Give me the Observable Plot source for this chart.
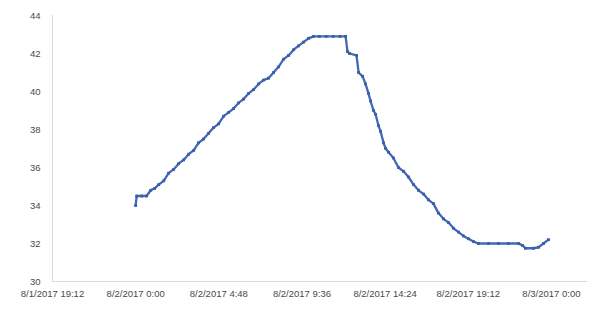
<!DOCTYPE html>
<html>
<head>
<meta charset="utf-8">
<script src="https://cdn.jsdelivr.net/npm/d3@7"></script>
<script src="https://cdn.jsdelivr.net/npm/@observablehq/plot@0.6"></script>
<style>
  html, body { margin: 0; padding: 0; background: #fff; }
  #chart { width: 590px; height: 318px; }
</style>
</head>
<body>
<div id="chart"></div>
<script>
// Hours after 8/2/2017 0:00
const hours = [0.00, 0.06, 0.35, 0.63, 0.87, 1.10, 1.33, 1.62, 1.90, 2.19, 2.48, 2.77, 3.06, 3.35, 3.63, 3.92,
  4.21, 4.50, 4.79, 5.08, 5.37, 5.65, 5.94, 6.23, 6.52, 6.81, 7.10, 7.38, 7.67, 7.96, 8.25, 8.54, 8.83, 9.12,
  9.40, 9.69, 9.98, 10.27, 10.60, 11.00, 11.40, 11.80, 12.12, 12.23, 12.35, 12.75, 12.87, 13.10, 13.27, 13.44,
  13.56, 13.73, 13.85, 14.02, 14.14, 14.31, 14.43, 14.60, 14.88, 15.17, 15.46, 15.75, 16.04, 16.33, 16.62,
  16.90, 17.19, 17.48, 17.77, 18.06, 18.35, 18.64, 18.92, 19.21, 19.50, 19.79, 20.37, 20.94, 21.52, 22.10,
  22.33, 22.50, 22.96, 23.25, 23.54, 23.83];
const temps = [34.0, 34.5, 34.5, 34.5, 34.8, 34.9, 35.1, 35.3, 35.7, 35.9, 36.2, 36.4, 36.7, 36.9, 37.3, 37.5,
  37.8, 38.1, 38.3, 38.7, 38.9, 39.1, 39.4, 39.6, 39.9, 40.1, 40.4, 40.6, 40.7, 41.0, 41.3, 41.7, 41.9, 42.2,
  42.4, 42.6, 42.8, 42.9, 42.9, 42.9, 42.9, 42.9, 42.9, 42.1, 42.0, 41.9, 41.0, 40.8, 40.4, 39.9,
  39.5, 39.0, 38.8, 38.2, 37.9, 37.3, 37.0, 36.8, 36.5, 36.0, 35.8, 35.5, 35.1, 34.8, 34.6,
  34.3, 34.1, 33.6, 33.3, 33.1, 32.8, 32.6, 32.4, 32.25, 32.1, 32.0, 32.0, 32.0, 32.0, 32.0,
  31.9, 31.75, 31.75, 31.8, 32.0, 32.2];
const xTickLabels = ["8/1/2017 19:12", "8/2/2017 0:00", "8/2/2017 4:48", "8/2/2017 9:36", "8/2/2017 14:24", "8/2/2017 19:12", "8/3/2017 0:00"];
const yTicks = [30, 32, 34, 36, 38, 40, 42, 44];

function parseLabel(s) {
  const [d, t] = s.split(" ");
  const [m, day, y] = d.split("/").map(Number);
  const [H, M] = t.split(":").map(Number);
  return new Date(Date.UTC(y, m - 1, day, H, M));
}
const base = Date.UTC(2017, 7, 2, 0, 0);
const data = hours.map((h, i) => ({ t: new Date(base + h * 3600e3), v: temps[i] }));
const xTicks = xTickLabels.map(parseLabel);
const fmt = d => `${d.getUTCMonth() + 1}/${d.getUTCDate()}/${d.getUTCFullYear()} ${d.getUTCHours()}:${String(d.getUTCMinutes()).padStart(2, "0")}`;

const xMin = parseLabel("8/1/2017 19:12");
const xMax = new Date(Date.UTC(2017, 7, 3, 2, 5));

const chart = Plot.plot({
  width: 590,
  height: 318,
  marginLeft: 52,
  marginRight: 3,
  marginTop: 15,
  marginBottom: 37,
  style: { fontFamily: "'Liberation Sans', Arial, sans-serif", fontSize: "9.5px", color: "#4a4a4a", background: "#fff" },
  x: { type: "utc", domain: [xMin, xMax], ticks: xTicks, tickFormat: fmt, tickSize: 0, tickPadding: 9, label: null },
  y: { domain: [30, 44], ticks: yTicks, tickSize: 0, tickPadding: 12, label: null },
  marks: [
    Plot.ruleX([xMin], { stroke: "#d9d9d9" }),
    Plot.ruleY([30], { stroke: "#d9d9d9" }),
    Plot.line(data, { x: "t", y: "v", stroke: "#4169b8", strokeWidth: 2.3 }),
    Plot.dot(data, { x: "t", y: "v", symbol: "square", r: 1.6, fill: "#3a5ea8", stroke: "none" })
  ]
});
document.getElementById("chart").appendChild(chart);
</script>
</body>
</html>
